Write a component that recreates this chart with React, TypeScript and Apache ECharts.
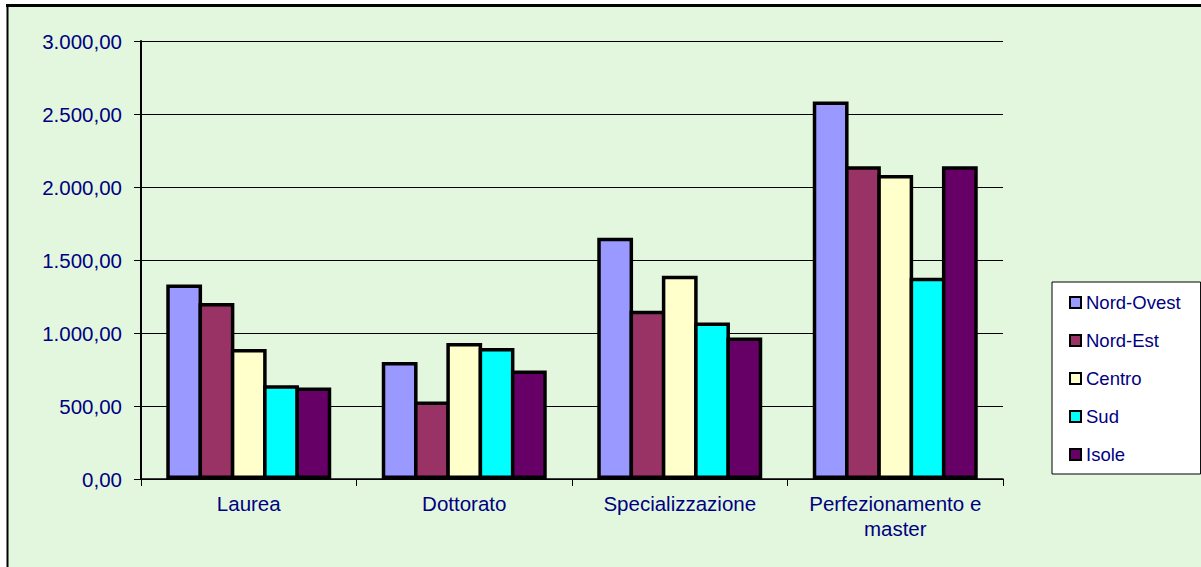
import React, { useEffect, useRef } from "react";
import * as echarts from "echarts";

const categories = ["Laurea", "Dottorato", "Specializzazione", "Perfezionamento e\nmaster"];
const seriesNames = ["Nord-Ovest", "Nord-Est", "Centro", "Sud", "Isole"];
const seriesColors = ["#9999FF", "#993366", "#FFFFCC", "#00FFFF", "#660066"];
const nordOvest = [1332, 802, 1652, 2585];
const nordEst = [1206, 530, 1152, 2142];
const centro = [891, 932, 1392, 2083];
const sud = [642, 898, 1072, 1378];
const isole = [626, 743, 969, 2142];
const seriesValues = [nordOvest, nordEst, centro, sud, isole];

const fmt = (v: number) => {
  const fixed = v.toFixed(2);
  const [intPart, dec] = fixed.split(".");
  const withDots = intPart.replace(/\B(?=(\d{3})+(?!\d))/g, ".");
  return withDots + "," + dec;
};

const FONT = "Arial, 'Liberation Sans', sans-serif";
const NAVY = "#000080";

export default function App() {
  const ref = useRef<HTMLDivElement>(null);
  useEffect(() => {
    if (!ref.current) return;
    const chart = echarts.init(ref.current, undefined, { renderer: "svg" });
    chart.setOption({
      animation: false,
      backgroundColor: "#ffffff",
      graphic: [
        {
          type: "rect",
          z: -10,
          silent: true,
          shape: { x: 7, y: 5, width: 1200, height: 570 },
          style: { fill: "#e3f7df" },
        },
        {
          type: "line",
          z: 10,
          silent: true,
          shape: { x1: 6, y1: 5.5, x2: 1201, y2: 5.5 },
          style: { stroke: "#000", lineWidth: 3 },
        },
        {
          type: "line",
          z: 10,
          silent: true,
          shape: { x1: 7.5, y1: 4, x2: 7.5, y2: 567 },
          style: { stroke: "#000", lineWidth: 2 },
        },
      ],
      grid: { left: 141, top: 41, right: 198, bottom: 88, containLabel: false },
      legend: {
        orient: "vertical",
        left: 1052,
        top: 282,
        padding: [11, 20, 10, 17],
        itemGap: 19.0,
        itemWidth: 11,
        itemHeight: 11,
        icon: "rect",
        backgroundColor: "#ffffff",
        borderColor: "#000",
        borderWidth: 1,
        borderRadius: 0,
        itemStyle: { borderColor: "#000", borderWidth: 2 },
        textStyle: { fontFamily: FONT, fontSize: 18.5, color: NAVY, lineHeight: 17 },
        data: seriesNames,
      },
      xAxis: {
        type: "category",
        data: categories,
        axisLine: { show: true, lineStyle: { color: "#000", width: 1.5 } },
        axisTick: { show: true, length: 7, lineStyle: { color: "#000", width: 1 } },
        axisLabel: {
          fontFamily: FONT,
          fontSize: 20.5,
          color: NAVY,
          margin: 12,
          lineHeight: 25,
          interval: 0,
        },
        splitLine: { show: false },
      },
      yAxis: {
        type: "value",
        min: 0,
        max: 3000,
        interval: 500,
        axisLine: { show: true, lineStyle: { color: "#000", width: 2 } },
        axisTick: { show: true, length: 7, lineStyle: { color: "#000", width: 1 } },
        axisLabel: {
          fontFamily: FONT,
          fontSize: 20.5,
          color: NAVY,
          margin: 19,
          formatter: (v: number) => fmt(v),
        },
        splitLine: { show: true, lineStyle: { color: "#000", width: 1 } },
      },
      series: seriesNames.map((name, i) => ({
        name,
        type: "bar",
        data: seriesValues[i],
        barWidth: 35.8,
        barGap: "-9.8%",
        itemStyle: { color: seriesColors[i], borderColor: "#000", borderWidth: 3.5 },
      })),
    });
    return () => chart.dispose();
  }, []);
  return (
    <div
      ref={ref}
      style={{ position: "absolute", left: 0, top: 0, width: 1201, height: 567 }}
    />
  );
}
